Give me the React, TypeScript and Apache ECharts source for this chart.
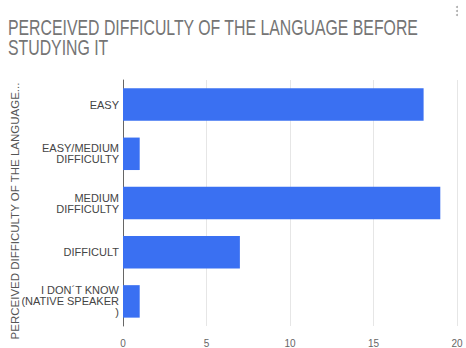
import React, { useEffect, useRef } from "react";
import * as echarts from "echarts";

const categories = [
  "EASY",
  "EASY/MEDIUM\nDIFFICULTY",
  "MEDIUM\nDIFFICULTY",
  "DIFFICULT",
  "I DON´T KNOW\n(NATIVE SPEAKER\n)",
];
const values = [18, 1, 19, 7, 1];
const xTicks = [0, 5, 10, 15, 20];
const titleLines = ["PERCEIVED DIFFICULTY OF THE LANGUAGE BEFORE", "STUDYING IT"];
const yAxisName = "PERCEIVED DIFFICULTY OF THE LANGUAGE...";

const FONT = "'Liberation Sans', Arial, sans-serif";

export default function App() {
  const ref = useRef<HTMLDivElement>(null);
  useEffect(() => {
    if (!ref.current) return;
    const chart = echarts.init(ref.current, undefined, { renderer: "svg" });
    chart.setOption({
      animation: false,
      backgroundColor: "#ffffff",
      graphic: [
        {
          type: "text",
          left: 8,
          top: 17,
          scaleX: 0.72,
          style: {
            text: titleLines.join("\n"),
            font: "22px " + FONT,
            fill: "#757575",
            lineHeight: 20,
          },
        },
        {
          type: "text",
          x: 15,
          y: 211,
          rotation: Math.PI / 2,
          style: {
            text: yAxisName,
            font: "11.5px " + FONT,
            fill: "#555",
            align: "center",
            verticalAlign: "middle",
          },
        },
        { type: "circle", shape: { cx: 457, cy: 7, r: 1 }, style: { fill: "#aaa" } },
        { type: "circle", shape: { cx: 457, cy: 11, r: 1 }, style: { fill: "#aaa" } },
        { type: "circle", shape: { cx: 457, cy: 15, r: 1 }, style: { fill: "#aaa" } },
      ],
      grid: { left: 123, right: 9, top: 80, bottom: 22 },
      xAxis: {
        type: "value",
        min: 0,
        max: 20,
        interval: 5,
        axisLine: { show: false },
        axisTick: { show: false },
        splitLine: { lineStyle: { color: "#e6e6e6", width: 1 } },
        axisLabel: {
          color: "#666",
          fontSize: 10,
          fontFamily: FONT,
          margin: 12,
          formatter: (v: number) => (xTicks.includes(v) ? String(v) : ""),
        },
      },
      yAxis: {
        type: "category",
        inverse: true,
        data: categories,
        axisLine: { show: true, lineStyle: { color: "#666", width: 1 } },
        axisTick: { show: false },
        axisLabel: {
          color: "#444",
          fontSize: 11,
          fontFamily: FONT,
          margin: 4,
          lineHeight: 11,
          align: "right",
        },
      },
      series: [
        {
          type: "bar",
          data: values,
          barWidth: "66%",
          itemStyle: { color: "#3a70f2" },
        },
      ],
    });
    return () => chart.dispose();
  }, []);
  return (
    <div
      ref={ref}
      style={{ position: "absolute", left: 0, top: 0, width: 466, height: 348 }}
    />
  );
}
